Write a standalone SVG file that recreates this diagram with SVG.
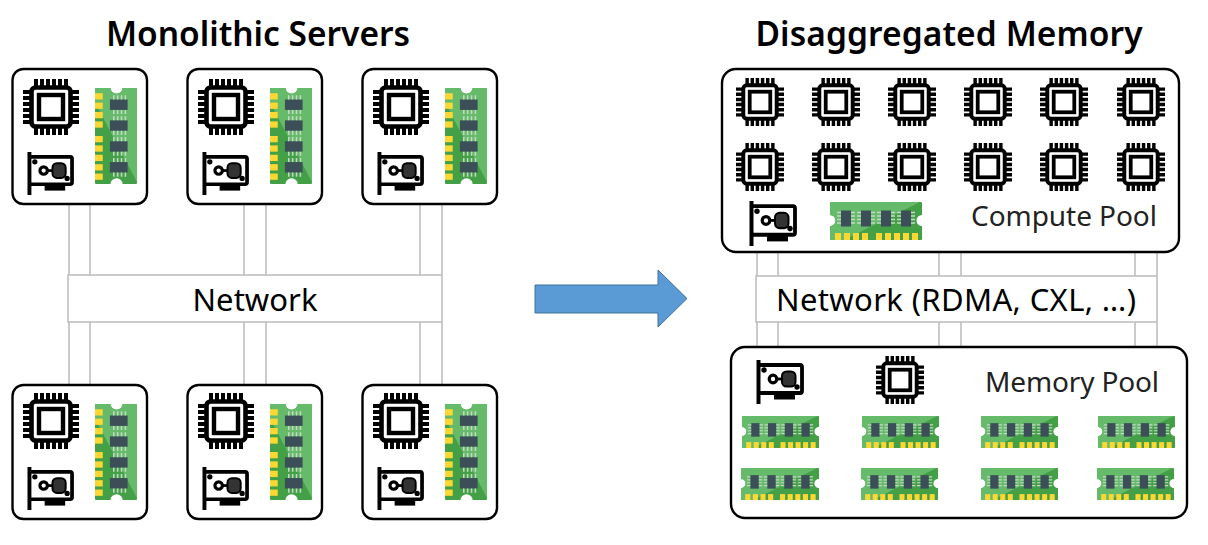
<svg xmlns="http://www.w3.org/2000/svg" width="1208" height="545" viewBox="0 0 1208 545">
<style>
text{font-family:"Noto Sans","Open Sans","Liberation Sans",sans-serif;fill:#000}
.title{font-size:33.500px;font-weight:600}
.label{font-size:31px}
.pool{font-size:28px;fill:#222}
.box{fill:#fff;stroke:#000;stroke-width:2.4}
.net{fill:#fff;stroke:#bfbfbf;stroke-width:1.6}
.wire{stroke:#bfbfbf;stroke-width:1.6;fill:none}
</style>
<defs>
<symbol id="cpu" viewBox="0 0 56 56" preserveAspectRatio="none">
<path d="M11 0h4v8h-4zM17 0h4v8h-4zM23 0h4v8h-4zM29 0h4v8h-4zM35 0h4v8h-4zM41 0h4v8h-4zM11 48h4v8h-4zM17 48h4v8h-4zM23 48h4v8h-4zM29 48h4v8h-4zM35 48h4v8h-4zM41 48h4v8h-4zM0 11h8v4h-8zM0 17h8v4h-8zM0 23h8v4h-8zM0 29h8v4h-8zM0 35h8v4h-8zM0 41h8v4h-8zM48 11h8v4h-8zM48 17h8v4h-8zM48 23h8v4h-8zM48 29h8v4h-8zM48 35h8v4h-8zM48 41h8v4h-8z" fill="#000"/>
<rect x="8.500" y="8.500" width="39" height="39" rx="4" fill="#fff" stroke="#000" stroke-width="4.600"/>
<rect x="16" y="16" width="24" height="24" fill="#fff" stroke="#000" stroke-width="4.400"/>
</symbol>
<symbol id="nic" viewBox="0 0 48 44" preserveAspectRatio="none">
<path d="M18 33H39V39.500H18z" fill="#000"/>
<path d="M2 5H44q2 0 2 2V31q0 2-2 2H2" fill="#fff" stroke="#000" stroke-width="3.800"/>
<path d="M0.500 0H4.500V44H0.500z" fill="#000"/>
<circle cx="8" cy="10" r="2.700" fill="#000"/>
<circle cx="41" cy="27" r="2.700" fill="#000"/>
<circle cx="17" cy="19" r="3.800" fill="#fff" stroke="#000" stroke-width="3.200"/>
<path d="M20 19H28" stroke="#000" stroke-width="2.800"/>
<rect x="26" y="11.500" width="13.500" height="15" rx="4.500" fill="#333" stroke="#000" stroke-width="2"/>
</symbol>
<symbol id="ram" viewBox="0 0 92 38" preserveAspectRatio="none">
<path d="M1 0H91a1 1 0 0 1 1 1V13a5.500 5.500 0 0 0 0 11V37a1 1 0 0 1-1 1H1a1 1 0 0 1-1-1V24a5.500 5.500 0 0 0 0-11V1a1 1 0 0 1 1-1z" fill="#43a047"/>
<path d="M1 0H90L14 38H1a1 1 0 0 1-1-1V24a5.500 5.500 0 0 0 0-11V1a1 1 0 0 1 1-1z" fill="#66bb6a"/>
<g fill="#3c4f58">
<rect x="11" y="8.500" width="10" height="16"/><rect x="31" y="8.500" width="10" height="16"/><rect x="51" y="8.500" width="10" height="16"/><rect x="71" y="8.500" width="10" height="16"/>
</g>
<path d="M7 10.500H11M7 14H11M7 17.500H11M7 21H11M21 10.500H25M21 14H25M21 17.500H25M21 21H25M27 10.500H31M27 14H31M27 17.500H31M27 21H31M41 10.500H45M41 14H45M41 17.500H45M41 21H45M47 10.500H51M47 14H51M47 17.500H51M47 21H51M61 10.500H65M61 14H65M61 17.500H65M61 21H65M67 10.500H71M67 14H71M67 17.500H71M67 21H71M81 10.500H85M81 14H85M81 17.500H85M81 21H85" stroke="#c5d8c6" stroke-width="1.400"/>
<g fill="#fdd835">
<rect x="5" y="31" width="6" height="7"/><rect x="14" y="31" width="6" height="7"/><rect x="23" y="31" width="6" height="7"/><rect x="32" y="31" width="6" height="7"/><rect x="46" y="31" width="6" height="7"/><rect x="55" y="31" width="6" height="7"/><rect x="64" y="31" width="6" height="7"/><rect x="73" y="31" width="6" height="7"/><rect x="82" y="31" width="6" height="7"/>
</g>
</symbol>
<symbol id="ramv" viewBox="0 0 38 92" preserveAspectRatio="none">
<use href="#ram" width="92" height="38" transform="translate(38 0) rotate(90)"/>
</symbol>
</defs>
<rect width="1208" height="545" fill="#fff"/>
<text class="title" x="258" y="46" text-anchor="middle" textLength="304">Monolithic Servers</text>
<text class="title" x="949" y="46" text-anchor="middle" textLength="387">Disaggregated Memory</text>
<g id="connectors">
<path class="wire" d="M69 204V275M90 204V275M244 204V275M266 204V275M420 204V275M442 204V275M69 322V385M90 322V385M244 322V385M266 322V385M420 322V385M442 322V385"/>
<path class="wire" d="M757 252V276M778 252V276M939 252V276M961 252V276M1135 252V276M1157 252V276M757 322V347M778 322V347M939 322V347M961 322V347M1135 322V347M1157 322V347"/>
</g>
<g id="network-left"><rect class="net" x="68" y="275" width="374" height="47"/><text class="label" x="255" y="311" text-anchor="middle" textLength="125">Network</text></g>
<g id="network-right"><rect class="net" x="756" y="276" width="401" height="46"/><text class="label" x="956" y="311" text-anchor="middle" textLength="360">Network (RDMA, CXL, …)</text></g>
<g id="server-1"><rect class="box" x="12.500" y="69" width="134.500" height="135" rx="11"/><use href="#cpu" x="23" y="79" width="56" height="56"/><use href="#nic" x="27" y="152" width="47" height="43"/><use href="#ramv" x="95" y="88" width="42" height="96"/></g>
<g id="server-2"><rect class="box" x="187.500" y="69" width="134.500" height="135" rx="11"/><use href="#cpu" x="198" y="79" width="56" height="56"/><use href="#nic" x="202" y="152" width="47" height="43"/><use href="#ramv" x="270" y="88" width="42" height="96"/></g>
<g id="server-3"><rect class="box" x="362.500" y="69" width="134.500" height="135" rx="11"/><use href="#cpu" x="373" y="79" width="56" height="56"/><use href="#nic" x="377" y="152" width="47" height="43"/><use href="#ramv" x="445" y="88" width="42" height="96"/></g>
<g id="server-4"><rect class="box" x="12.500" y="385" width="134.500" height="134" rx="11"/><use href="#cpu" x="23" y="393" width="56" height="56"/><use href="#nic" x="27" y="467" width="47" height="43"/><use href="#ramv" x="95" y="404" width="42" height="96"/></g>
<g id="server-5"><rect class="box" x="187.500" y="385" width="134.500" height="134" rx="11"/><use href="#cpu" x="198" y="393" width="56" height="56"/><use href="#nic" x="202" y="467" width="47" height="43"/><use href="#ramv" x="270" y="404" width="42" height="96"/></g>
<g id="server-6"><rect class="box" x="362.500" y="385" width="134.500" height="134" rx="11"/><use href="#cpu" x="373" y="393" width="56" height="56"/><use href="#nic" x="377" y="467" width="47" height="43"/><use href="#ramv" x="445" y="404" width="42" height="96"/></g>
<g id="arrow"><path d="M535 285H658V270L687 298.500L658 327V313H535z" fill="#5b9bd5" stroke="#41719c" stroke-width="1"/></g>
<g id="compute-pool"><rect class="box" x="722" y="69" width="457" height="183" rx="14"/>
<use href="#cpu" x="736" y="78" width="48" height="48"/><use href="#cpu" x="812" y="78" width="48" height="48"/><use href="#cpu" x="888" y="78" width="48" height="48"/><use href="#cpu" x="964" y="78" width="48" height="48"/><use href="#cpu" x="1040" y="78" width="48" height="48"/><use href="#cpu" x="1117" y="78" width="48" height="48"/>
<use href="#cpu" x="736" y="143" width="48" height="48"/><use href="#cpu" x="812" y="143" width="48" height="48"/><use href="#cpu" x="888" y="143" width="48" height="48"/><use href="#cpu" x="964" y="143" width="48" height="48"/><use href="#cpu" x="1040" y="143" width="48" height="48"/><use href="#cpu" x="1117" y="143" width="48" height="48"/>
<use href="#nic" x="749" y="201" width="48" height="45"/><use href="#ram" x="830" y="202" width="92" height="38"/>
<text class="pool" x="1064" y="226" text-anchor="middle" textLength="186">Compute Pool</text></g>
<g id="memory-pool"><rect class="box" x="731" y="347" width="456" height="171" rx="14"/>
<use href="#nic" x="756" y="360" width="48" height="44"/><use href="#cpu" x="876" y="356" width="48" height="48"/>
<text class="pool" x="1072" y="392" text-anchor="middle" textLength="174">Memory Pool</text>
<use href="#ram" x="742" y="416" width="77" height="32"/><use href="#ram" x="862" y="416" width="77" height="32"/><use href="#ram" x="981" y="416" width="77" height="32"/><use href="#ram" x="1098" y="416" width="77" height="32"/>
<use href="#ram" x="741" y="468" width="78" height="32"/><use href="#ram" x="861" y="468" width="77" height="32"/><use href="#ram" x="981" y="468" width="77" height="32"/><use href="#ram" x="1097" y="468" width="77" height="32"/></g>
</svg>
